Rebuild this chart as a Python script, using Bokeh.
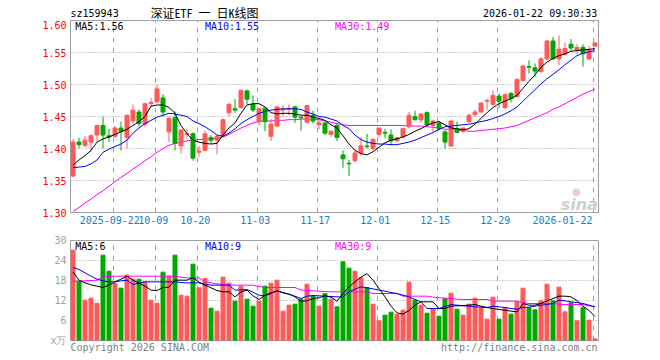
from bokeh.plotting import figure
from bokeh.layouts import column
from bokeh.models import Range1d, FixedTicker, Label, ColumnDataSource
from bokeh.embed import file_html
from bokeh.resources import INLINE

# ---------------- data ----------------
open_ = [1.357, 1.410, 1.405, 1.410, 1.421, 1.436, 1.420, 1.419, 1.432, 1.417,
         1.443, 1.457, 1.438, 1.470, 1.473, 1.479, 1.426, 1.448, 1.404, 1.422,
         1.423, 1.394, 1.397, 1.417, 1.413, 1.419, 1.456, 1.462, 1.464, 1.490,
         1.469, 1.442, 1.463, 1.419, 1.435, 1.460, 1.461, 1.465, 1.449, 1.441,
         1.452, 1.437, 1.440, 1.422, 1.436, 1.390, 1.377, 1.381, 1.393, 1.404,
         1.400, 1.422, 1.425, 1.421, 1.412, 1.418, 1.434, 1.450, 1.445, 1.456,
         1.436, 1.439, 1.426, 1.404, 1.431, 1.427, 1.442, 1.453, 1.457, 1.474,
         1.469, 1.482, 1.464, 1.486, 1.481, 1.506, 1.528, 1.526, 1.520, 1.540,
         1.568, 1.540, 1.547, 1.563, 1.554, 1.558, 1.540, 1.560]
high = [1.415, 1.417, 1.420, 1.422, 1.437, 1.450, 1.431, 1.435, 1.442, 1.452,
        1.469, 1.461, 1.471, 1.479, 1.500, 1.485, 1.450, 1.458, 1.429, 1.431,
        1.425, 1.404, 1.428, 1.421, 1.421, 1.447, 1.471, 1.477, 1.492, 1.492,
        1.483, 1.463, 1.464, 1.446, 1.466, 1.468, 1.469, 1.467, 1.450, 1.468,
        1.459, 1.444, 1.441, 1.428, 1.439, 1.397, 1.382, 1.398, 1.418, 1.423,
        1.416, 1.432, 1.431, 1.430, 1.418, 1.433, 1.457, 1.459, 1.455, 1.458,
        1.445, 1.443, 1.428, 1.444, 1.442, 1.433, 1.454, 1.461, 1.472, 1.478,
        1.491, 1.486, 1.486, 1.488, 1.509, 1.530, 1.538, 1.533, 1.543, 1.570,
        1.574, 1.577, 1.565, 1.571, 1.563, 1.563, 1.560, 1.566]
low = [1.355, 1.400, 1.402, 1.395, 1.411, 1.400, 1.410, 1.417, 1.397, 1.400,
       1.439, 1.434, 1.434, 1.465, 1.470, 1.450, 1.410, 1.397, 1.392, 1.416,
       1.381, 1.387, 1.396, 1.408, 1.391, 1.418, 1.450, 1.456, 1.462, 1.469,
       1.457, 1.436, 1.427, 1.412, 1.434, 1.450, 1.452, 1.440, 1.428, 1.439,
       1.439, 1.430, 1.421, 1.418, 1.412, 1.370, 1.357, 1.378, 1.389, 1.400,
       1.398, 1.418, 1.416, 1.405, 1.410, 1.417, 1.431, 1.444, 1.440, 1.435,
       1.426, 1.428, 1.400, 1.403, 1.424, 1.425, 1.440, 1.449, 1.456, 1.460,
       1.468, 1.463, 1.462, 1.472, 1.480, 1.505, 1.517, 1.512, 1.519, 1.538,
       1.539, 1.530, 1.545, 1.553, 1.548, 1.528, 1.538, 1.559]
close = [1.410, 1.406, 1.413, 1.420, 1.436, 1.421, 1.418, 1.432, 1.427, 1.452,
         1.460, 1.439, 1.470, 1.472, 1.493, 1.457, 1.447, 1.408, 1.429, 1.423,
         1.385, 1.396, 1.423, 1.413, 1.419, 1.445, 1.469, 1.460, 1.491, 1.477,
         1.460, 1.462, 1.442, 1.438, 1.465, 1.462, 1.463, 1.449, 1.448, 1.467,
         1.443, 1.440, 1.424, 1.427, 1.417, 1.384, 1.376, 1.393, 1.404, 1.403,
         1.414, 1.432, 1.424, 1.412, 1.417, 1.431, 1.452, 1.445, 1.454, 1.437,
         1.443, 1.431, 1.410, 1.443, 1.425, 1.432, 1.452, 1.457, 1.471, 1.475,
         1.483, 1.474, 1.484, 1.478, 1.508, 1.529, 1.527, 1.521, 1.540, 1.568,
         1.540, 1.555, 1.556, 1.557, 1.558, 1.548, 1.554, 1.565]
ma5 = [1.374, 1.382, 1.389, 1.397, 1.410, 1.415, 1.418, 1.422, 1.426, 1.430,
       1.436, 1.442, 1.450, 1.466, 1.468, 1.468, 1.464, 1.455, 1.436, 1.423,
       1.413, 1.410, 1.408, 1.407, 1.408, 1.421, 1.432, 1.440, 1.455, 1.468,
       1.470, 1.470, 1.465, 1.456, 1.454, 1.455, 1.455, 1.454, 1.452, 1.452,
       1.449, 1.447, 1.444, 1.437, 1.432, 1.420, 1.407, 1.397, 1.392, 1.390,
       1.395, 1.402, 1.409, 1.413, 1.415, 1.418, 1.422, 1.427, 1.431, 1.436,
       1.440, 1.442, 1.437, 1.432, 1.431, 1.429, 1.431, 1.438, 1.447, 1.456,
       1.464, 1.470, 1.474, 1.478, 1.483, 1.494, 1.505, 1.515, 1.527, 1.535,
       1.541, 1.545, 1.548, 1.552, 1.553, 1.554, 1.555, 1.556]
ma10 = [1.370, 1.371, 1.372, 1.376, 1.382, 1.394, 1.399, 1.403, 1.407, 1.413,
        1.424, 1.432, 1.439, 1.444, 1.449, 1.452, 1.455, 1.454, 1.452, 1.450,
        1.443, 1.439, 1.434, 1.428, 1.421, 1.419, 1.424, 1.431, 1.439, 1.445,
        1.450, 1.455, 1.458, 1.460, 1.461, 1.462, 1.462, 1.462, 1.461, 1.457,
        1.454, 1.450, 1.449, 1.446, 1.443, 1.436, 1.431, 1.421, 1.414, 1.410,
        1.408, 1.407, 1.407, 1.406, 1.406, 1.408, 1.410, 1.413, 1.417, 1.421,
        1.425, 1.430, 1.434, 1.435, 1.436, 1.437, 1.438, 1.440, 1.442, 1.444,
        1.447, 1.450, 1.454, 1.459, 1.465, 1.474, 1.483, 1.492, 1.501, 1.509,
        1.516, 1.523, 1.531, 1.538, 1.545, 1.549, 1.551, 1.553]
ma30 = [1.302, 1.308, 1.315, 1.321, 1.328, 1.334, 1.341, 1.348, 1.355, 1.361,
        1.368, 1.374, 1.381, 1.387, 1.394, 1.400, 1.405, 1.408, 1.410, 1.412,
        1.413, 1.414, 1.414, 1.415, 1.416, 1.418, 1.422, 1.427, 1.432, 1.436,
        1.440, 1.442, 1.443, 1.443, 1.444, 1.444, 1.445, 1.445, 1.446, 1.446,
        1.446, 1.445, 1.443, 1.441, 1.439, 1.437, 1.436, 1.436, 1.436, 1.436,
        1.436, 1.436, 1.436, 1.436, 1.436, 1.436, 1.435, 1.435, 1.435, 1.434,
        1.433, 1.432, 1.430, 1.430, 1.429, 1.428, 1.427, 1.427, 1.428, 1.429,
        1.430, 1.431, 1.432, 1.434, 1.436, 1.440, 1.444, 1.448, 1.452, 1.456,
        1.461, 1.465, 1.470, 1.475, 1.480, 1.485, 1.489, 1.493]
volume = [27.1, 17.8, 12.1, 12.7, 11.2, 25.6, 20.8, 17.1, 15.7, 19.6,
          18.4, 18.4, 17.6, 12.1, 11.2, 20.5, 19.3, 25.6, 13.6, 13.3,
          22.9, 15.8, 18.6, 9.7, 8.8, 19.0, 17.2, 11.8, 16.3, 12.4,
          10.3, 11.8, 16.3, 17.2, 18.1, 8.8, 10.6, 10.9, 12.4, 16.9,
          13.4, 10.3, 14.1, 12.4, 10.1, 23.6, 21.7, 20.8, 18.8, 15.9,
          10.9, 5.9, 7.6, 8.5, 7.9, 9.1, 17.5, 12.1, 10.6, 8.2,
          9.5, 7.3, 12.6, 14.2, 9.4, 7.6, 10.9, 12.7, 9.8, 6.4,
          13.0, 6.4, 9.9, 7.9, 11.6, 15.7, 9.8, 9.2, 11.9, 16.9,
          11.9, 16.0, 8.6, 11.3, 5.9, 9.8, 6.1, 0.5]
vma5 = [20.6, 18.1, 17.3, 16.7, 16.3, 15.9, 16.6, 17.6, 18.4, 19.3,
        18.1, 17.2, 16.3, 15.1, 15.0, 15.9, 16.0, 18.1, 18.1, 18.1,
        18.9, 17.5, 16.6, 15.8, 15.0, 14.6, 14.6, 13.1, 14.6, 15.1,
        13.4, 12.3, 13.6, 14.3, 14.9, 14.3, 13.9, 13.1, 11.8, 11.9,
        12.6, 12.8, 13.4, 13.0, 11.8, 14.1, 16.1, 17.6, 19.0, 20.1,
        18.1, 15.6, 13.1, 10.3, 8.3, 7.9, 9.0, 10.6, 11.6, 11.6,
        11.6, 9.6, 9.6, 10.3, 10.4, 10.5, 10.6, 10.8, 10.3, 9.9,
        9.6, 9.3, 9.1, 8.8, 8.6, 11.1, 10.6, 10.6, 11.1, 11.9,
        12.6, 13.3, 13.3, 13.1, 12.0, 10.3, 9.0, 7.2]
vma10 = [21.9, 21.3, 20.3, 19.3, 18.4, 17.9, 17.6, 17.6, 17.9, 18.1,
         16.8, 17.2, 17.6, 17.6, 17.6, 17.6, 17.6, 17.6, 17.4, 17.3,
         17.3, 17.3, 16.9, 16.6, 16.6, 16.6, 16.6, 15.1, 15.2, 15.3,
         14.5, 13.6, 13.4, 14.1, 14.9, 14.4, 13.9, 13.3, 12.6, 13.3,
         13.5, 13.4, 13.3, 13.2, 13.1, 13.1, 14.6, 15.4, 16.1, 15.8,
         15.5, 15.1, 14.8, 14.4, 14.1, 13.6, 13.1, 12.3, 11.6, 9.6,
         9.6, 9.6, 10.2, 10.8, 10.6, 10.4, 10.3, 10.1, 10.0, 9.9,
         10.3, 10.1, 9.9, 9.6, 9.4, 9.9, 10.0, 10.3, 10.6, 10.8,
         11.1, 12.1, 11.9, 11.6, 11.4, 11.1, 10.6, 10.1]
vma30 = [17.8, 17.8, 17.9, 18.0, 18.1, 19.1, 19.2, 19.3, 19.3, 19.3,
         19.3, 19.3, 19.3, 19.3, 19.3, 19.3, 19.3, 19.3, 19.0, 18.8,
         18.8, 18.8, 17.6, 17.3, 17.0, 16.8, 16.7, 16.6, 16.6, 16.6,
         16.6, 16.2, 15.9, 15.9, 15.9, 15.9, 15.9, 15.9, 15.1, 15.0,
         14.9, 14.8, 14.7, 14.6, 14.6, 14.6, 14.6, 14.6, 14.6, 14.6,
         14.1, 14.1, 14.1, 14.1, 14.1, 13.3, 13.3, 13.3, 13.3, 13.3,
         13.0, 12.8, 12.7, 12.6, 12.4, 12.3, 12.3, 12.3, 12.3, 12.3,
         11.8, 11.8, 11.8, 11.8, 11.8, 11.4, 11.1, 11.1, 11.1, 11.1,
         11.1, 10.9, 10.8, 10.8, 10.8, 10.8, 10.4, 10.1]

date_idx = [7, 14, 21, 31, 41, 51, 61, 71, 87]
date_labels = ["2025-09-22", "10-09", "10-20", "11-03", "11-17",
               "12-01", "12-15", "12-29", "2026-01-22"]
price_ticks = [1.30, 1.35, 1.40, 1.45, 1.50, 1.55, 1.60]
price_labels = ["1.30", "1.35", "1.40", "1.45", "1.50", "1.55", "1.60"]
vol_ticks = [0, 6, 12, 18, 24, 30]
vol_labels = ["x万", "6", "12", "18", "24", "30"]
footer_texts = ["Copyright 2026 SINA.COM", "http://finance.sina.com.cn"]

# ---------------- styling ----------------
RED = "#ff5a5a"
GREEN = "#00a800"
GRID = "#a0a0a0"
MONO = "DejaVu Sans Mono"
N = len(close)
PX = 1.0 / 6.0             # one pixel in x data units (6 px per day)
W, LEFT, RIGHT = 660, 70, 62
xc = [i + 2.5 * PX for i in range(N)]
colors = [RED if c >= o else GREEN for o, c in zip(open_, close)]

src = ColumnDataSource(dict(
    x=xc, o=open_, h=high, l=low, c=close,
    top=[max(o, c) for o, c in zip(open_, close)],
    bot=[min(o, c) for o, c in zip(open_, close)],
    col=colors, vol=volume, ma5=ma5, ma10=ma10, ma30=ma30,
    vma5=vma5, vma10=vma10, vma30=vma30))

grid_pos = [i + 0.5 * PX for i in date_idx]
label_pos = [i - 0.2 for i in date_idx]
label_pos[0] = date_idx[0] - 0.45
label_pos[-1] = date_idx[-1] - 5.0
xr = Range1d(0, N)


def lab(fig, x, y, text, color, size="10px", align="left", baseline="middle",
        font=MONO, style="normal"):
    fig.add_layout(Label(x=x, y=y, text=text, text_color=color,
                         text_font=font, text_font_size=size,
                         text_align=align, text_baseline=baseline,
                         text_font_style=style))


def quiet_axis(ax, color, standoff):
    ax.axis_line_color = None
    ax.major_tick_line_color = None
    ax.minor_tick_line_color = None
    ax.major_tick_out = 0
    ax.major_tick_in = 0
    ax.major_label_standoff = standoff
    ax.major_label_text_color = color
    ax.major_label_text_font = MONO
    ax.major_label_text_font_size = "10px"


# ---------------- header row ----------------
hd = figure(width=W, height=20, output_backend="svg", toolbar_location=None,
            x_range=xr, y_range=Range1d(0, 20), x_axis_location=None,
            y_axis_location=None, title_location=None, min_border_left=LEFT,
            min_border_right=RIGHT, min_border_top=0, min_border_bottom=0)
hd.outline_line_color = None
hd.xgrid.visible = False
hd.ygrid.visible = False
lab(hd, 0.0, 7, "sz159943", "#000000")
lab(hd, 13.33, 8.0, "深证ETF 一 日K线图", "#000000", size="12px",
    font="Noto Sans Mono CJK SC, Noto Sans CJK SC")
lab(hd, 87.8, 7, "2026-01-22 09:30:33", "#000000", align="right")

# ---------------- main (price) panel ----------------
p = figure(width=W, height=212, output_backend="svg", toolbar_location=None,
           x_range=xr, y_range=Range1d(1.30, 1.60), title_location=None,
           min_border_left=LEFT, min_border_right=RIGHT, min_border_top=0,
           min_border_bottom=20)
p.outline_line_color = GRID

p.yaxis.ticker = FixedTicker(ticks=price_ticks)
p.yaxis.major_label_overrides = {t: s for t, s in zip(price_ticks, price_labels)}
quiet_axis(p.yaxis[0], "#ff0000", 4)
p.xaxis.ticker = FixedTicker(ticks=label_pos)
p.xaxis.major_label_overrides = {t: s for t, s in zip(label_pos, date_labels)}
quiet_axis(p.xaxis[0], "#0a82d2", 3)

p.xgrid.ticker = FixedTicker(ticks=grid_pos)
p.xgrid.grid_line_color = GRID
p.xgrid.grid_line_dash = "5 5"
p.ygrid.ticker = FixedTicker(ticks=price_ticks[1:-1])
p.ygrid.grid_line_color = GRID
p.ygrid.grid_line_dash = "1 2"

p.line("x", "ma30", source=src, color="#ff00ff", line_width=1)
p.segment("x", "h", "x", "l", source=src, color="col", line_width=1)
p.vbar(x="x", top="top", bottom="bot", width=4 * PX, source=src,
       fill_color="col", line_color="col", line_width=1)
p.line("x", "ma10", source=src, color="#0000ff", line_width=1)
p.line("x", "ma5", source=src, color="#000000", line_width=1)

yma = 1.60 - 5.5 / 640
lab(p, 0.8, yma, "MA5:1.56", "#000000")
lab(p, 22.4, yma, "MA10:1.55", "#0000ff")
lab(p, 44.1, yma, "MA30:1.49", "#ff00ff")
lab(p, 87.9, 1.3128, "sina", "#cfcfcf", size="16px", align="right",
    baseline="alphabetic", font="DejaVu Sans", style="bold italic")
lab(p, 84.3, 1.3325, "●", "#f6c8c8", size="10px", align="center",
    font="DejaVu Sans")

# ---------------- volume panel ----------------
q = figure(width=W, height=126, output_backend="svg", toolbar_location=None,
           x_range=xr, y_range=Range1d(0, 30), title_location=None,
           min_border_left=LEFT, min_border_right=RIGHT, min_border_top=8,
           min_border_bottom=18)
q.outline_line_color = GRID

q.yaxis.ticker = FixedTicker(ticks=vol_ticks)
q.yaxis.major_label_overrides = {t: s for t, s in zip(vol_ticks, vol_labels)}
quiet_axis(q.yaxis[0], "#a0a0a0", 4)

foot_pos = [len(footer_texts[0]) / 2.0 + 0.05,
            N - 0.2 - len(footer_texts[1]) / 2.0]
q.xaxis.ticker = FixedTicker(ticks=foot_pos)
q.xaxis.major_label_overrides = {t: s for t, s in zip(foot_pos, footer_texts)}
quiet_axis(q.xaxis[0], "#808080", 1)

q.xgrid.ticker = FixedTicker(ticks=grid_pos)
q.xgrid.grid_line_color = GRID
q.xgrid.grid_line_dash = "5 5"
q.ygrid.ticker = FixedTicker(ticks=vol_ticks[1:-1])
q.ygrid.grid_line_color = GRID
q.ygrid.grid_line_dash = "1 2"

q.vbar(x="x", top="vol", bottom=0, width=4 * PX, source=src,
       fill_color="col", line_color="col", line_width=1)
q.line("x", "vma30", source=src, color="#ff00ff", line_width=1)
q.line("x", "vma10", source=src, color="#0000ff", line_width=1)
q.line("x", "vma5", source=src, color="#000000", line_width=1)

yv = 30 - 5.5 * 0.3
lab(q, 0.8, yv, "MA5:6", "#000000")
lab(q, 22.4, yv, "MA10:9", "#0000ff")
lab(q, 44.1, yv, "MA30:9", "#ff00ff")

layout = column(hd, p, q, spacing=0)
open("out.html", "w").write(file_html(layout, INLINE))
